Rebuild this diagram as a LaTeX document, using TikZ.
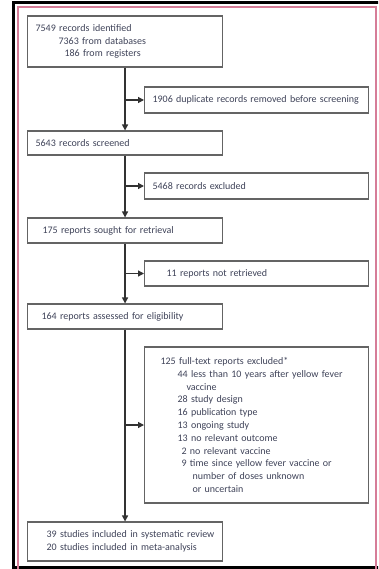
\documentclass[tikz,border=0pt]{standalone}
\usepackage{fontspec}
\setmainfont{Carlito}
\usetikzlibrary{arrows.meta}
\definecolor{txt}{RGB}{62,66,88}
\definecolor{boxc}{RGB}{100,100,100}
\definecolor{linec}{RGB}{50,50,50}
\definecolor{pinkc}{RGB}{214,125,152}
\newcommand{\myind}[1]{\hspace*{#1pt}}
\begin{document}
\begin{tikzpicture}[x=1pt,y=-1pt,
  box/.style={draw=boxc, line width=1.1pt, anchor=west, inner xsep=0pt, inner ysep=0pt,
    align=left, text=txt, font=\fontsize{10}{12.8}\selectfont},
  mainbox/.style={box, text width=195pt, minimum width=195pt},
  sidebox/.style={box, text width=224pt, minimum width=224pt},
  arr/.style={draw=linec, line width=1.2pt, -{Triangle[length=6pt,width=6pt]}}]
\useasboundingbox (0,0) rectangle (378,569);
\begin{scope}
\clip (0,0) rectangle (378,569);
\draw[line width=3pt] (13.5,600) -- (13.5,3) -- (400,3);
\draw[line width=3pt] (12,567) -- (400,567);
\draw[pinkc, line width=2pt] (17.5,600) -- (17.5,7) -- (375.5,7) -- (375.5,600);
\end{scope}

\node[mainbox, minimum height=51pt] (b1) at (27,41.5)
  {\myind{8}7549 records identified\\\myind{31}7363 from databases\\\myind{37}186 from registers};
\node[sidebox, minimum height=26pt] (s1) at (144,100)
  {\myind{8}1906 duplicate records removed before screening};
\node[mainbox, minimum height=24pt] (b2) at (27,143)
  {\myind{8}5643 records screened};
\node[sidebox, minimum height=26pt] (s2) at (144,186)
  {\myind{8}5468 records excluded};
\node[mainbox, minimum height=25pt] (b3) at (27,230.5)
  {\myind{15}175 reports sought for retrieval};
\node[sidebox, minimum height=25pt] (s3) at (144,273.5)
  {\myind{22}11 reports not retrieved};
\node[mainbox, minimum height=25pt] (b4) at (27,316.5)
  {\myind{14}164 reports assessed for eligibility};
\node[sidebox, minimum height=156pt] (s4) at (144,425)
  {\myind{16}125 full-text reports excluded*\\
   \myind{33}44 less than 10 years after yellow fever\\
   \myind{42}vaccine\\
   \myind{33}28 study design\\
   \myind{33}16 publication type\\
   \myind{33}13 ongoing study\\
   \myind{33}13 no relevant outcome\\
   \myind{37}2 no relevant vaccine\\
   \myind{37}9 time since yellow fever vaccine or\\
   \myind{48}number of doses unknown\\
   \myind{48}or uncertain};
\node[mainbox, minimum height=39pt] (b5) at (27,541.5)
  {\myind{19}39 studies included in systematic review\\\myind{19}20 studies included in meta-analysis};

\draw[arr] (b1) -- (b2);
\draw[arr] (b2) -- (b3);
\draw[arr] (b3) -- (b4);
\draw[arr] (b4) -- (b5);
\coordinate (j1) at (b1.south |- s1.west);
\coordinate (j2) at (b2.south |- s2.west);
\coordinate (j3) at (b3.south |- s3.west);
\coordinate (j4) at (b4.south |- s4.west);
\draw[arr] (j1) -- (s1);
\draw[arr] (j2) -- (s2);
\draw[arr] (j3) -- (s3);
\draw[arr] (j4) -- (s4);
\end{tikzpicture}
\end{document}
